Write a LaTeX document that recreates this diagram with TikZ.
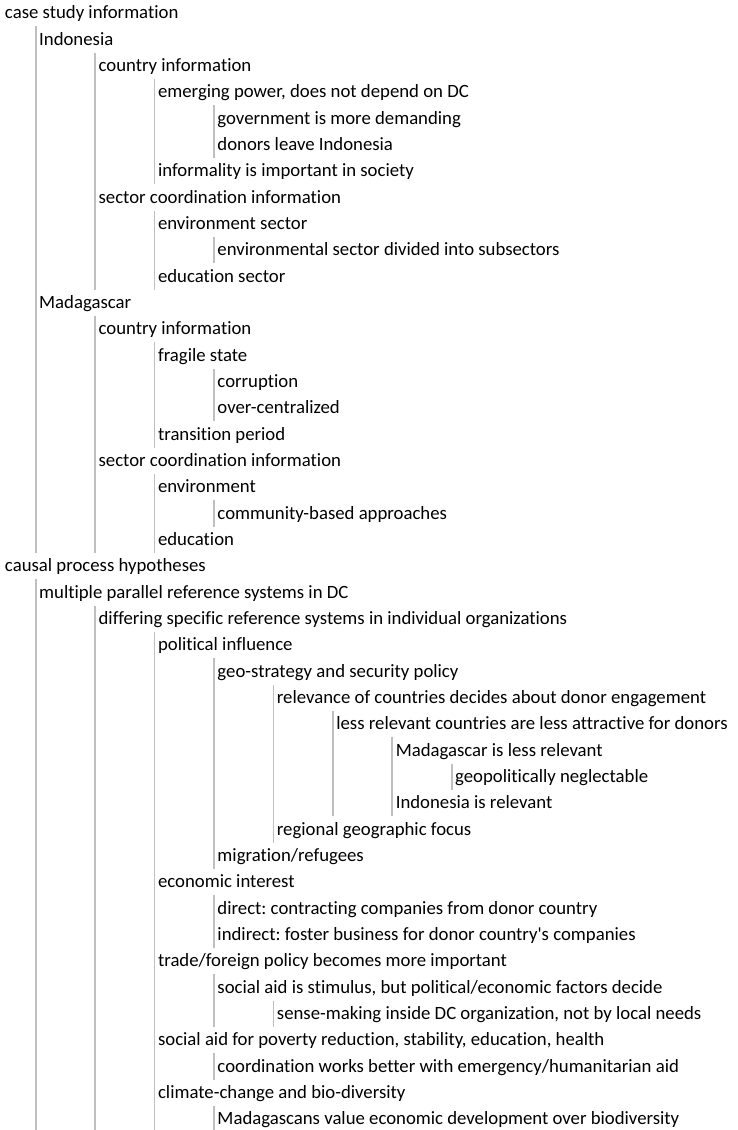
\documentclass[tikz,border=0pt]{standalone}
\usepackage{fontspec}
\setmainfont{Carlito}[Ligatures={NoCommon}]
\frenchspacing
\definecolor{guidegray}{HTML}{BFBFBF}
\newcommand\lx[1]{(39.2pt+(#1-1)*59.43pt)}
\newcommand\ry[1]{(-13.3pt-(#1-1)*26.33pt)}
\newcommand\treerow[4]{\node[row] (#1) at ({#2},{\ry{#3}}) {#4};}
\newcommand\guide[2]{\draw[guideline] ([xshift=-3.5pt]#1.north west) -- ([xshift=-3.5pt]#1.north west |- #2.south);}
\begin{document}
\begin{tikzpicture}[
  row/.style={anchor=west, inner sep=0pt, outer sep=0pt, text height=18.76pt, text depth=7.57pt,
    font=\fontsize{18.75}{22}\selectfont},
  guideline/.style={draw=guidegray, line width=1.8pt}
]
\useasboundingbox (0,0) rectangle (738pt,-1130pt);
\treerow{r1}{5pt}{1}{case study information}
\treerow{r2}{\lx{1}}{2}{Indonesia}
\treerow{r3}{\lx{2}}{3}{country information}
\treerow{r4}{\lx{3}}{4}{emerging power, does not depend on DC}
\treerow{r5}{\lx{4}}{5}{government is more demanding}
\treerow{r6}{\lx{4}}{6}{donors leave Indonesia}
\treerow{r7}{\lx{3}}{7}{informality is important in society}
\treerow{r8}{\lx{2}}{8}{sector coordination information}
\treerow{r9}{\lx{3}}{9}{environment sector}
\treerow{r10}{\lx{4}}{10}{environmental sector divided into subsectors}
\treerow{r11}{\lx{3}}{11}{education sector}
\treerow{r12}{\lx{1}}{12}{Madagascar}
\treerow{r13}{\lx{2}}{13}{country information}
\treerow{r14}{\lx{3}}{14}{fragile state}
\treerow{r15}{\lx{4}}{15}{corruption}
\treerow{r16}{\lx{4}}{16}{over-centralized}
\treerow{r17}{\lx{3}}{17}{transition period}
\treerow{r18}{\lx{2}}{18}{sector coordination information}
\treerow{r19}{\lx{3}}{19}{environment}
\treerow{r20}{\lx{4}}{20}{community-based approaches}
\treerow{r21}{\lx{3}}{21}{education}
\treerow{r22}{5pt}{22}{causal process hypotheses}
\treerow{r23}{\lx{1}}{23}{multiple parallel reference systems in DC}
\treerow{r24}{\lx{2}}{24}{differing specific reference systems in individual organizations}
\treerow{r25}{\lx{3}}{25}{political influence}
\treerow{r26}{\lx{4}}{26}{geo-strategy and security policy}
\treerow{r27}{\lx{5}}{27}{relevance of countries decides about donor engagement}
\treerow{r28}{\lx{6}}{28}{less relevant countries are less attractive for donors}
\treerow{r29}{\lx{7}}{29}{Madagascar is less relevant}
\treerow{r30}{\lx{8}}{30}{geopolitically neglectable}
\treerow{r31}{\lx{7}}{31}{Indonesia is relevant}
\treerow{r32}{\lx{5}}{32}{regional geographic focus}
\treerow{r33}{\lx{4}}{33}{migration/refugees}
\treerow{r34}{\lx{3}}{34}{economic interest}
\treerow{r35}{\lx{4}}{35}{direct: contracting companies from donor country}
\treerow{r36}{\lx{4}}{36}{indirect: foster business for donor country\textquotesingle s companies}
\treerow{r37}{\lx{3}}{37}{trade/foreign policy becomes more important}
\treerow{r38}{\lx{4}}{38}{social aid is stimulus, but political/economic factors decide}
\treerow{r39}{\lx{5}}{39}{sense-making inside DC organization, not by local needs}
\treerow{r40}{\lx{3}}{40}{social aid for poverty reduction, stability, education, health}
\treerow{r41}{\lx{4}}{41}{coordination works better with emergency/humanitarian aid}
\treerow{r42}{\lx{3}}{42}{climate-change and bio-diversity}
\treerow{r43}{\lx{4}}{43}{Madagascans value economic development over biodiversity}
\guide{r2}{r21}
\guide{r3}{r11}
\guide{r4}{r7}
\guide{r5}{r6}
\guide{r9}{r11}
\guide{r10}{r10}
\guide{r13}{r21}
\guide{r14}{r17}
\guide{r15}{r16}
\guide{r19}{r21}
\guide{r20}{r20}
\guide{r23}{r43}
\guide{r24}{r43}
\guide{r25}{r43}
\guide{r26}{r33}
\guide{r27}{r32}
\guide{r28}{r31}
\guide{r29}{r31}
\guide{r30}{r30}
\guide{r35}{r36}
\guide{r38}{r39}
\guide{r39}{r39}
\guide{r41}{r41}
\guide{r43}{r43}
\end{tikzpicture}
\end{document}
